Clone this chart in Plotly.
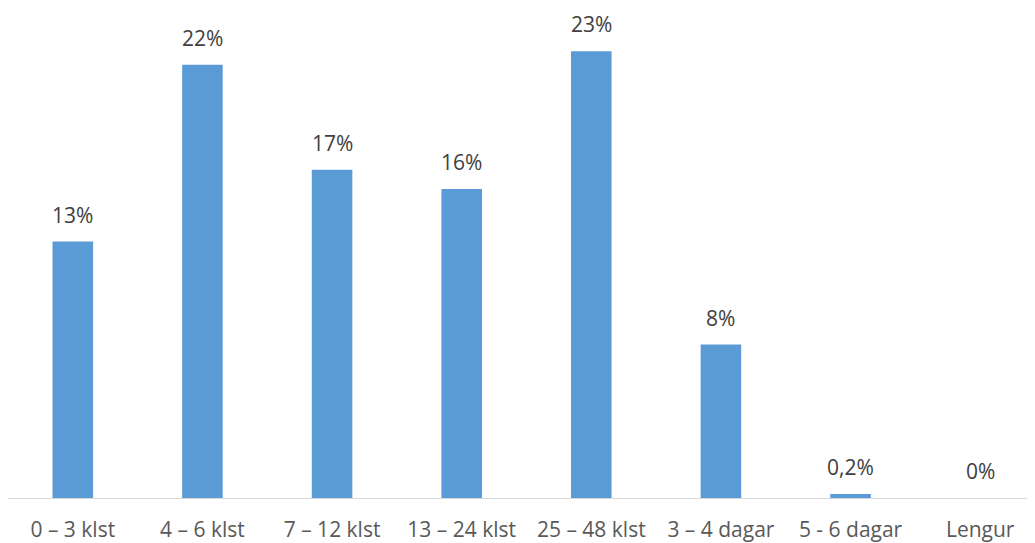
import plotly.graph_objects as go

categories = ["0 – 3 klst", "4 – 6 klst", "7 – 12 klst", "13 – 24 klst",
              "25 – 48 klst", "3 – 4 dagar", "5 - 6 dagar", "Lengur"]
values = [13.2, 22.3, 16.9, 15.9, 23.0, 7.9, 0.2, 0.0]
labels = ["13%", "22%", "17%", "16%", "23%", "8%", "0,2%", "0%"]

FONT = "Open Sans"

fig = go.Figure()
fig.add_trace(go.Bar(
    x=list(range(len(categories))),
    y=values,
    marker=dict(color="#5B9BD5", line=dict(width=0)),
    hoverinfo="skip",
))

for i, (v, t) in enumerate(zip(values, labels)):
    fig.add_annotation(x=i, y=v, text=t, showarrow=False,
                       yanchor="bottom", yshift=11,
                       font=dict(family=FONT, size=21, color="#404040"))

fig.update_layout(
    width=1027, height=535,
    margin=dict(l=0, r=0, t=0, b=45),
    paper_bgcolor="white", plot_bgcolor="white",
    bargap=0.687,
    showlegend=False,
    font=dict(family=FONT, size=21, color="#595959"),
)
fig.update_xaxes(
    tickmode="array", tickvals=list(range(len(categories))), ticktext=categories,
    range=[-0.5, 7.423], showgrid=False, zeroline=False,
    showline=True, linecolor="#d9d9d9", linewidth=1,
    ticks="", ticklabelstandoff=13,
    tickfont=dict(family=FONT, size=21, color="#595959"),
)
fig.update_yaxes(range=[0, 25.22], showgrid=False, zeroline=False,
                 showticklabels=False, showline=False)

fig.write_html("out.html")
